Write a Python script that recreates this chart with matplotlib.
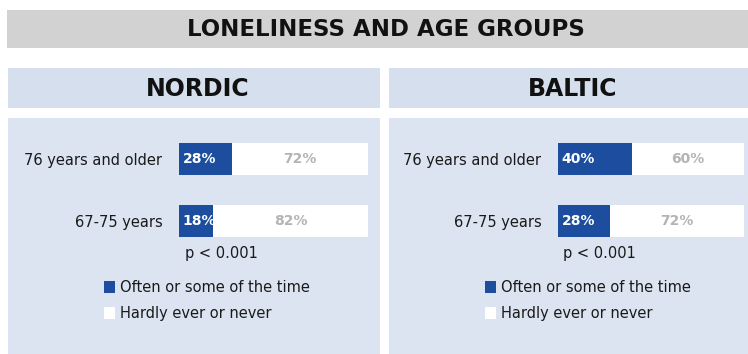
import matplotlib.pyplot as plt
from matplotlib.patches import Rectangle, Patch

W, H = 748, 354

# data
groups = ["67-75 years", "76 years and older"]
nordic_often = [18, 28]
nordic_hardly = [82, 72]
baltic_often = [28, 40]
baltic_hardly = [72, 60]
regions = ["NORDIC", "BALTIC"]
p_text = "p < 0.001"
legend_labels = ["Often or some of the time", "Hardly ever or never"]

BLUE = "#1c4d9e"
PANEL = "#dbe4f0"
HEAD = "#d5dfee"
GREY_BAND = "#d2d2d2"
PCT_GREY = "#b4b4b4"

plt.rcParams['font.family'] = ['DejaVu Sans']

fig = plt.figure(figsize=(W / 100, H / 100), dpi=100)
fig.patch.set_facecolor("white")


def px_axes(x0, y0, x1, y1):
    # pixel box (top-left origin) -> figure axes
    return fig.add_axes([x0 / W, 1 - y1 / H, (x1 - x0) / W, (y1 - y0) / H])


bg = px_axes(0, 0, W, H)
bg.set_xlim(0, W)
bg.set_ylim(H, 0)
bg.axis("off")
bg.set_zorder(-1)

# title band
bg.add_patch(Rectangle((7, 10), W - 7, 38, color=GREY_BAND, lw=0))
bg.text(386, 30, "LONELINESS AND AGE GROUPS", ha="center", va="center",
        fontsize=16.5, fontweight="bold", color="#111111")

panels = [(8, 380), (389, 748)]
for (x0, x1), name in zip(panels, regions):
    bg.add_patch(Rectangle((x0, 68), x1 - x0, 40, color=HEAD, lw=0))
    bg.add_patch(Rectangle((x0, 118), x1 - x0, H - 118, color=PANEL, lw=0))
    bg.text((x0 + x1) / 2 + 4, 89, name, ha="center", va="center",
            fontsize=17, fontweight="bold", color="#111111")

bar_boxes = [(179, 368), (558, 744)]
series = [(nordic_often, nordic_hardly), (baltic_often, baltic_hardly)]
legend_x = [104, 485]

for (bx0, bx1), (often, hardly), lx in zip(bar_boxes, series, legend_x):
    ax = px_axes(bx0, 140.4, bx1, 239.6)
    ax.set_xlim(0, 100)
    ax.set_ylim(-0.3, 1.3)
    ax.patch.set_alpha(0)
    for s in ax.spines.values():
        s.set_visible(False)
    ax.set_xticks([])
    ax.set_yticks(range(len(groups)))
    ax.set_yticklabels(groups, fontsize=10.5, color="#1a1a1a")
    ax.tick_params(axis="y", length=0, pad=12)

    ax.barh(range(len(groups)), often, height=0.52, color=BLUE, lw=0,
            label=legend_labels[0])
    ax.barh(range(len(groups)), hardly, left=often, height=0.52,
            color="white", lw=0, label=legend_labels[1])
    for i, (o, h) in enumerate(zip(often, hardly)):
        ax.text(2, i, f"{o}%", ha="left", va="center", color="white",
                fontsize=10, fontweight="bold")
        ax.text(o + h / 2, i, f"{h}%", ha="center", va="center",
                color=PCT_GREY, fontsize=10, fontweight="bold")

    ax.text(22.5, -0.52, p_text, ha="center", va="center",
            fontsize=10.5, color="#1a1a1a", clip_on=False)

    handles = [Patch(facecolor=BLUE, edgecolor="none"),
               Patch(facecolor="white", edgecolor="none")]
    fig.legend(handles, legend_labels, loc="upper left",
               bbox_to_anchor=(lx / W, 1 - 280 / H), frameon=False,
               fontsize=10.5, handlelength=0.75, handleheight=0.9,
               handletextpad=0.35, labelspacing=0.75, borderpad=0,
               borderaxespad=0, labelcolor="#1a1a1a")

fig.savefig("out.png", dpi=100)
